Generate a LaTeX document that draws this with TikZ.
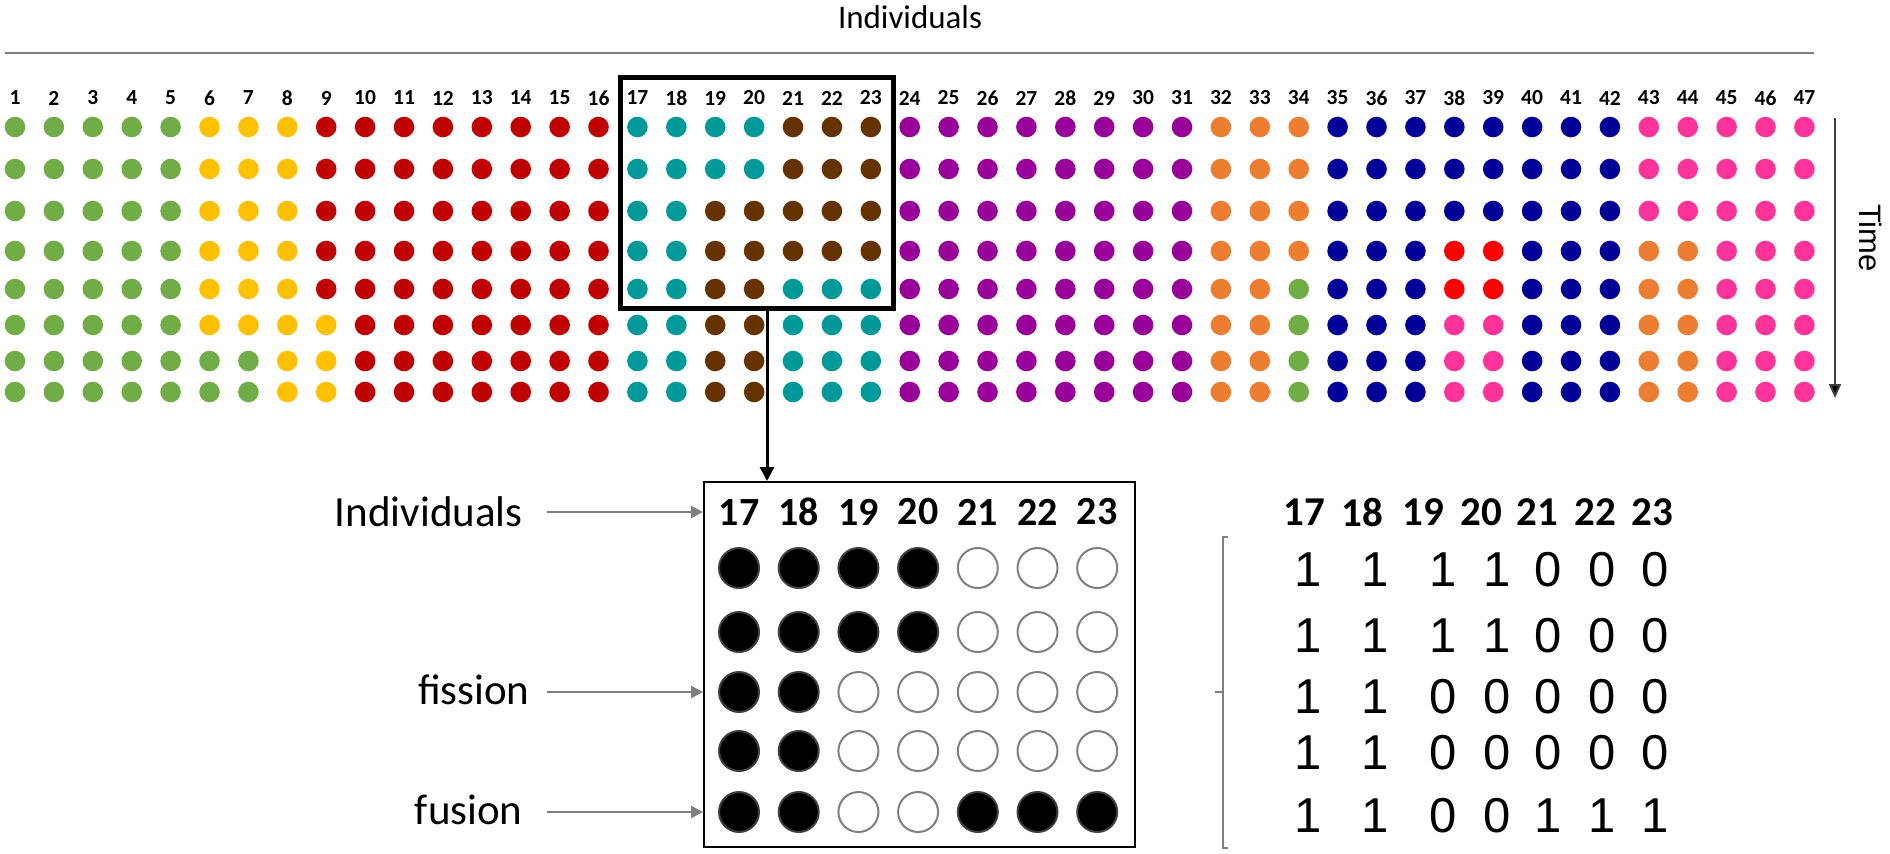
\documentclass[tikz,border=0pt]{standalone}
\usepackage{fontspec}
\setmainfont{Carlito}
\newfontfamily\arialf{Liberation Sans}
\usetikzlibrary{arrows.meta}
\definecolor{colg}{HTML}{70AD47}
\definecolor{coly}{HTML}{FFC000}
\definecolor{colr}{HTML}{C00000}
\definecolor{colt}{HTML}{009999}
\definecolor{colb}{HTML}{663300}
\definecolor{colp}{HTML}{990099}
\definecolor{colo}{HTML}{ED7D31}
\definecolor{coln}{HTML}{000099}
\definecolor{colk}{HTML}{FF3399}
\definecolor{colx}{HTML}{FF0000}
\definecolor{linegray}{HTML}{7F7F7F}
\definecolor{timegray}{HTML}{404040}
\begin{document}
\begin{tikzpicture}[x=0.5pt,y=-0.5pt,
  dot/.style={circle,inner sep=0pt,minimum size=10.3pt},
  collabel/.style={font=\bfseries\fontsize{10.75}{12}\selectfont,inner sep=0pt},
  title/.style={font=\fontsize{16.5}{19}\selectfont,inner sep=0pt},
  sidelabel/.style={font=\fontsize{21.5}{25}\selectfont,inner sep=0pt,anchor=east},
  ihead/.style={font=\bfseries\fontsize{20}{24}\selectfont,inner sep=0pt},
  mhead/.style={font=\bfseries\fontsize{20.5}{24}\selectfont,inner sep=0pt},
  mdig/.style={font=\arialf\fontsize{24.5}{28}\selectfont,inner sep=0pt},
  cell1/.style={circle,inner sep=0pt,minimum size=20pt,fill=black,draw=black!75,line width=1pt},
  cell0/.style={circle,inner sep=0pt,minimum size=20pt,fill=white,draw=linegray,line width=1pt},
  grayarrow/.style={draw=linegray,line width=1.25pt,-{Triangle[length=6pt,width=6pt]}},
  zoomarrow/.style={draw=black,line width=1.5pt,-{Triangle[length=7pt,width=7pt]}},
  timearrow/.style={draw=timegray,line width=1pt,-{Triangle[length=7pt,width=6pt,fill=black]}},
  bracketline/.style={draw=linegray,line width=1pt}]

\fill[white] (0,0) rectangle (1890,853);
\useasboundingbox (0,0) rectangle (1890,853);

% title and rule
\node[title] (ttl) at (910,17) {Individuals};
\coordinate (ruleL) at (5,53);
\coordinate (ruleR) at (1814,53);
\draw[linegray,line width=1pt] (ruleL) -- (ruleR);

% column labels
\foreach \i in {1,...,47} {
  \node[collabel] (l-\i) at ({15+(\i-1)*38.9},98) {\i};
}

% dots
\foreach \r/\yy/\lst in {
 1/127/{g,g,g,g,g,y,y,y,r,r,r,r,r,r,r,r,t,t,t,t,b,b,b,p,p,p,p,p,p,p,p,o,o,o,n,n,n,n,n,n,n,n,k,k,k,k,k},
 2/169/{g,g,g,g,g,y,y,y,r,r,r,r,r,r,r,r,t,t,t,t,b,b,b,p,p,p,p,p,p,p,p,o,o,o,n,n,n,n,n,n,n,n,k,k,k,k,k},
 3/211/{g,g,g,g,g,y,y,y,r,r,r,r,r,r,r,r,t,t,b,b,b,b,b,p,p,p,p,p,p,p,p,o,o,o,n,n,n,n,n,n,n,n,k,k,k,k,k},
 4/251/{g,g,g,g,g,y,y,y,r,r,r,r,r,r,r,r,t,t,b,b,b,b,b,p,p,p,p,p,p,p,p,o,o,o,n,n,n,x,x,n,n,n,o,o,k,k,k},
 5/289/{g,g,g,g,g,y,y,y,r,r,r,r,r,r,r,r,t,t,b,b,t,t,t,p,p,p,p,p,p,p,p,o,o,g,n,n,n,x,x,n,n,n,o,o,k,k,k},
 6/325/{g,g,g,g,g,y,y,y,y,r,r,r,r,r,r,r,t,t,b,b,t,t,t,p,p,p,p,p,p,p,p,o,o,g,n,n,n,k,k,n,n,n,o,o,k,k,k},
 7/361/{g,g,g,g,g,g,g,y,y,r,r,r,r,r,r,r,t,t,b,b,t,t,t,p,p,p,p,p,p,p,p,o,o,g,n,n,n,k,k,n,n,n,o,o,k,k,k},
 8/392/{g,g,g,g,g,g,g,y,y,r,r,r,r,r,r,r,t,t,b,b,t,t,t,p,p,p,p,p,p,p,p,o,o,g,n,n,n,k,k,n,n,n,o,o,k,k,k}} {
  \foreach \c [count=\i] in \lst {
    \node[dot,fill=col\c] (d-\r-\i) at ({15+(\i-1)*38.9},\yy) {};
  }
}

% zoom box
\node[draw=black,line width=2.5pt,minimum width=136.5pt,minimum height=115.5pt,inner sep=0pt] (zoombox) at (756.5,192.5) {};

% time arrow
\coordinate (timeT) at (1835,118);
\coordinate (timeB) at (1835,398);
\draw[timearrow] (timeT) -- (timeB);
\node[font=\arialf\fontsize{15.5}{18}\selectfont,inner sep=0pt,rotate=-90] (timelbl) at (1871,238) {Time};

% inset
\node[draw=black,line width=1pt,minimum width=215.5pt,minimum height=182.5pt,inner sep=0pt] (inset) at (919.5,664.5) {};
\coordinate (zs) at (767,308);
\draw[zoomarrow] (zs) -- (zs |- inset.north);

\foreach \i in {17,...,23} {
  \node[ihead] (ih-\i) at ({739+(\i-17)*59.7},512) {\i};
}
\foreach \r/\yy/\lst in {1/568/{1,1,1,1,0,0,0},2/632/{1,1,1,1,0,0,0},3/692/{1,1,0,0,0,0,0},4/751/{1,1,0,0,0,0,0},5/812/{1,1,0,0,1,1,1}} {
  \foreach \v [count=\i] in \lst {
    \node[cell\v] (c-\r-\i) at ({739+(\i-1)*59.7},\yy) {};
  }
}

% side labels
\coordinate (arrowstart) at (547,0);
\node[sidelabel] (lind) at (523,512) {Individuals};
\node[sidelabel] (lfis) at (530,690) {fission};
\node[sidelabel] (lfus) at (523,810) {fusion};
\draw[grayarrow] (arrowstart |- ih-17) -- (inset.west |- ih-17);
\draw[grayarrow] (arrowstart |- c-3-1) -- (inset.west |- c-3-1);
\draw[grayarrow] (arrowstart |- c-5-1) -- (inset.west |- c-5-1);

% matrix
\foreach \hx [count=\i from 17] in {1304,1362,1423,1481,1537,1595,1652} {
  \node[mhead] (mh-\i) at (\hx,512) {\i};
}
\foreach \r/\yy/\lst in {1/570/{1,1,1,1,0,0,0},2/636/{1,1,1,1,0,0,0},3/697/{1,1,0,0,0,0,0},4/753/{1,1,0,0,0,0,0},5/816/{1,1,0,0,1,1,1}} {
  \foreach \v [count=\i] in \lst {
    \pgfmathsetmacro{\mx}{{1308,1375,1443,1497,1548,1602,1655}[\i-1]}
    \node[mdig] (m-\r-\i) at (\mx,\yy) {\v};
  }
}

% bracket
\coordinate (brT) at (1223,537);
\coordinate (brB) at (1223,848);
\coordinate (brM) at (1223,692);
\draw[bracketline] ([xshift=2.5pt]brT) -- (brT) -- (brB) -- ([xshift=2.5pt]brB);
\draw[bracketline] (brM) -- ([xshift=-4pt]brM);
\end{tikzpicture}
\end{document}
